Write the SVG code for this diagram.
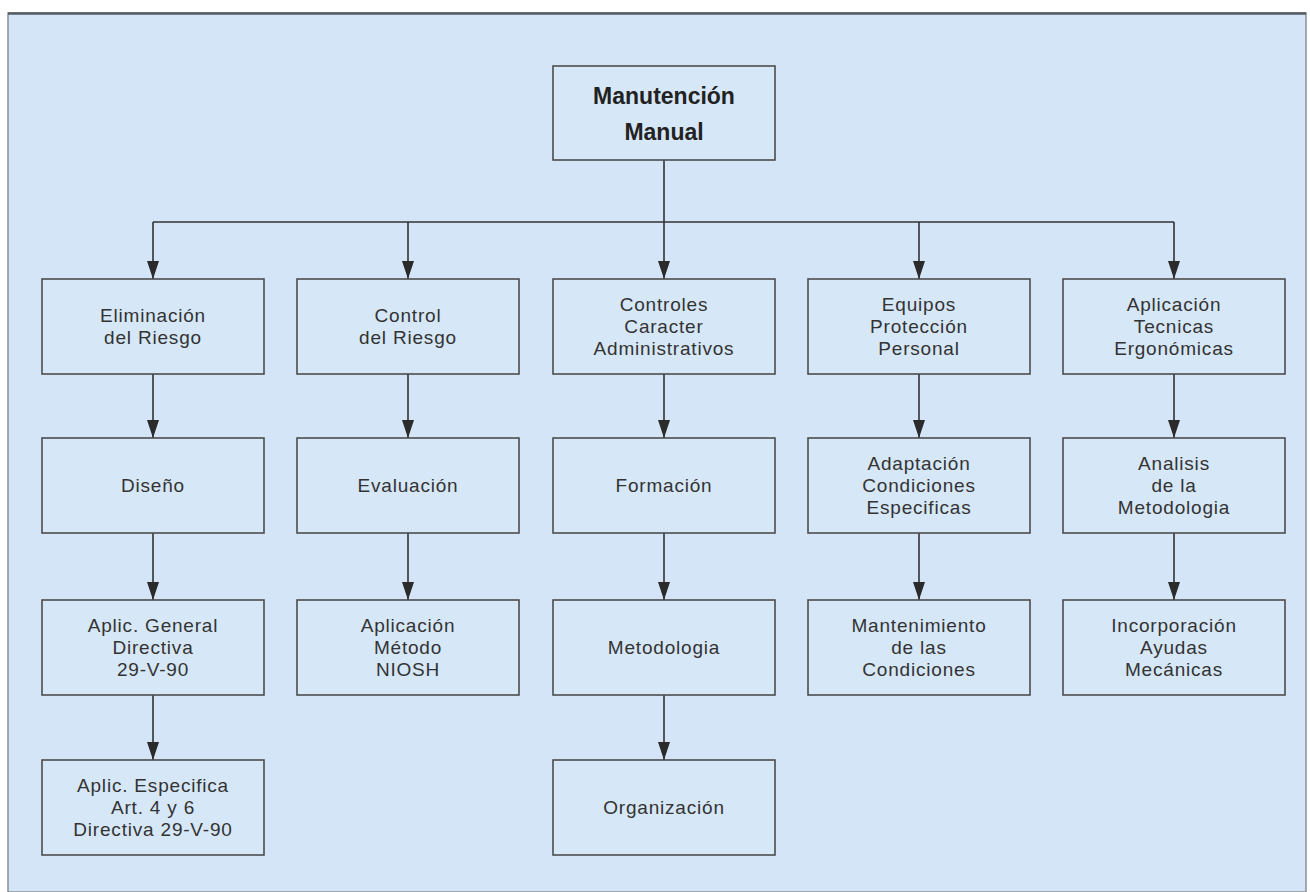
<svg xmlns="http://www.w3.org/2000/svg" width="1310" height="892" viewBox="0 0 1310 892">
<defs>
<marker id="arr" markerUnits="userSpaceOnUse" markerWidth="18" markerHeight="12" refX="18" refY="6" orient="auto" viewBox="0 0 18 12">
<path d="M0,0 L18,6 L0,12 Z" fill="#2b2b2b"/>
</marker>
<style>
.box{fill:#d6e7f8;stroke:#4d4d4d;stroke-width:1.6}
.t{font-family:"Liberation Sans",Arial,sans-serif;font-size:19px;letter-spacing:0.8px;fill:#333;text-anchor:middle}
.tb{font-family:"Liberation Sans",Arial,sans-serif;font-size:23px;font-weight:bold;fill:#222;text-anchor:middle}
.c{fill:none;stroke:#333;stroke-width:1.6}
</style>
</defs>
<rect x="0" y="0" width="1310" height="892" fill="#ffffff"/>
<rect x="8" y="13" width="1298" height="879" fill="#d3e5f7" stroke="#8a8f96" stroke-width="1.5"/>
<line x1="8" y1="13.5" x2="1306" y2="13.5" stroke="#555b63" stroke-width="2.5"/>

<g id="connectors">
<path class="c" d="M664 160 V222 M153 222 H1174"/>
<path class="c" marker-end="url(#arr)" d="M153 222 V279"/>
<path class="c" marker-end="url(#arr)" d="M408 222 V279"/>
<path class="c" marker-end="url(#arr)" d="M664 222 V279"/>
<path class="c" marker-end="url(#arr)" d="M919 222 V279"/>
<path class="c" marker-end="url(#arr)" d="M1174 222 V279"/>
<path class="c" marker-end="url(#arr)" d="M153 374 V438"/>
<path class="c" marker-end="url(#arr)" d="M408 374 V438"/>
<path class="c" marker-end="url(#arr)" d="M664 374 V438"/>
<path class="c" marker-end="url(#arr)" d="M919 374 V438"/>
<path class="c" marker-end="url(#arr)" d="M1174 374 V438"/>
<path class="c" marker-end="url(#arr)" d="M153 533 V600"/>
<path class="c" marker-end="url(#arr)" d="M408 533 V600"/>
<path class="c" marker-end="url(#arr)" d="M664 533 V600"/>
<path class="c" marker-end="url(#arr)" d="M919 533 V600"/>
<path class="c" marker-end="url(#arr)" d="M1174 533 V600"/>
<path class="c" marker-end="url(#arr)" d="M153 695 V760"/>
<path class="c" marker-end="url(#arr)" d="M664 695 V760"/>
</g>

<g id="n_root"><rect class="box" x="553" y="66" width="222" height="94"/>
<text class="tb" x="664" y="104">Manutención</text><text class="tb" x="664" y="140">Manual</text></g>

<g id="n_elim"><rect class="box" x="42" y="279" width="222" height="95"/>
<text class="t" x="153" y="322">Eliminación</text><text class="t" x="153" y="344">del Riesgo</text></g>
<g id="n_ctrl"><rect class="box" x="297" y="279" width="222" height="95"/>
<text class="t" x="408" y="322">Control</text><text class="t" x="408" y="344">del Riesgo</text></g>
<g id="n_admin"><rect class="box" x="553" y="279" width="222" height="95"/>
<text class="t" x="664" y="311">Controles</text><text class="t" x="664" y="333">Caracter</text><text class="t" x="664" y="355">Administrativos</text></g>
<g id="n_epp"><rect class="box" x="808" y="279" width="222" height="95"/>
<text class="t" x="919" y="311">Equipos</text><text class="t" x="919" y="333">Protección</text><text class="t" x="919" y="355">Personal</text></g>
<g id="n_ergo"><rect class="box" x="1063" y="279" width="222" height="95"/>
<text class="t" x="1174" y="311">Aplicación</text><text class="t" x="1174" y="333">Tecnicas</text><text class="t" x="1174" y="355">Ergonómicas</text></g>

<g id="n_diseno"><rect class="box" x="42" y="438" width="222" height="95"/>
<text class="t" x="153" y="492">Diseño</text></g>
<g id="n_eval"><rect class="box" x="297" y="438" width="222" height="95"/>
<text class="t" x="408" y="492">Evaluación</text></g>
<g id="n_form"><rect class="box" x="553" y="438" width="222" height="95"/>
<text class="t" x="664" y="492">Formación</text></g>
<g id="n_adapt"><rect class="box" x="808" y="438" width="222" height="95"/>
<text class="t" x="919" y="470">Adaptación</text><text class="t" x="919" y="492">Condiciones</text><text class="t" x="919" y="514">Especificas</text></g>
<g id="n_anal"><rect class="box" x="1063" y="438" width="222" height="95"/>
<text class="t" x="1174" y="470">Analisis</text><text class="t" x="1174" y="492">de la</text><text class="t" x="1174" y="514">Metodologia</text></g>

<g id="n_aplgen"><rect class="box" x="42" y="600" width="222" height="95"/>
<text class="t" x="153" y="632">Aplic. General</text><text class="t" x="153" y="654">Directiva</text><text class="t" x="153" y="676">29-V-90</text></g>
<g id="n_niosh"><rect class="box" x="297" y="600" width="222" height="95"/>
<text class="t" x="408" y="632">Aplicación</text><text class="t" x="408" y="654">Método</text><text class="t" x="408" y="676">NIOSH</text></g>
<g id="n_metod"><rect class="box" x="553" y="600" width="222" height="95"/>
<text class="t" x="664" y="654">Metodologia</text></g>
<g id="n_mant"><rect class="box" x="808" y="600" width="222" height="95"/>
<text class="t" x="919" y="632">Mantenimiento</text><text class="t" x="919" y="654">de las</text><text class="t" x="919" y="676">Condiciones</text></g>
<g id="n_ayud"><rect class="box" x="1063" y="600" width="222" height="95"/>
<text class="t" x="1174" y="632">Incorporación</text><text class="t" x="1174" y="654">Ayudas</text><text class="t" x="1174" y="676">Mecánicas</text></g>

<g id="n_aplesp"><rect class="box" x="42" y="760" width="222" height="95"/>
<text class="t" x="153" y="792">Aplic. Especifica</text><text class="t" x="153" y="814">Art. 4 y 6</text><text class="t" x="153" y="836">Directiva 29-V-90</text></g>
<g id="n_org"><rect class="box" x="553" y="760" width="222" height="95"/>
<text class="t" x="664" y="814">Organización</text></g>
</svg>
